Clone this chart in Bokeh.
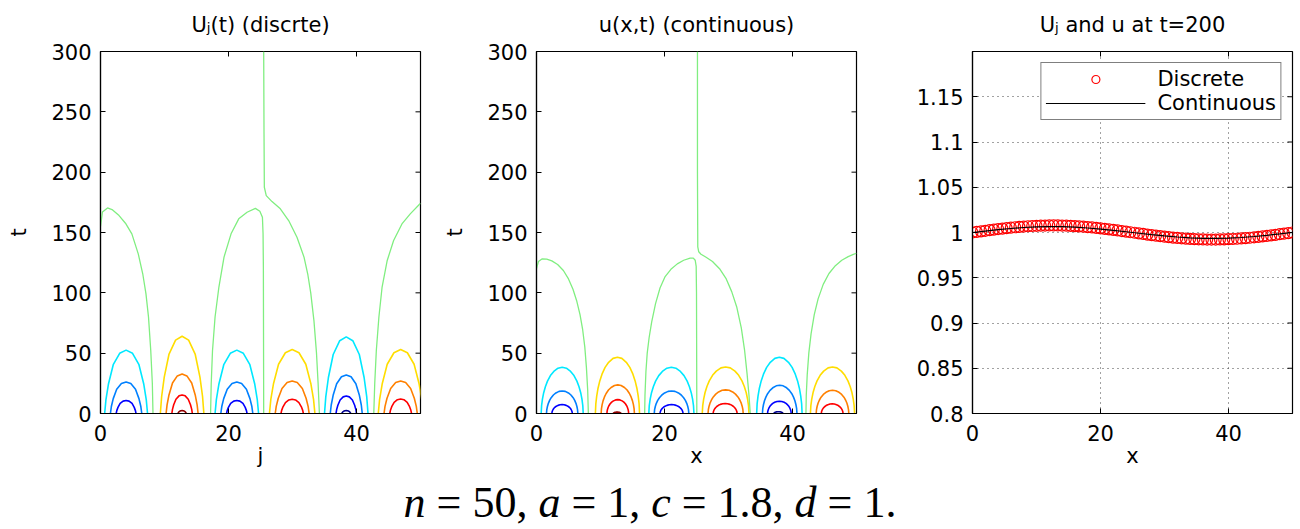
import numpy as np
from bokeh.plotting import figure
from bokeh.models import FixedTicker, Range1d, Div, Legend, LegendItem
from bokeh.layouts import row, column
from bokeh.embed import file_html
from bokeh.resources import INLINE

# ------------------------------------------------------------------ data
# jet colours of the nine contour levels (0 = lowest ... 8 = highest, 4 = level 1.0)
level_colors = ["#000090", "#0000ff", "#0080ff", "#00e8ff", "#80ee80",
                "#ffdd00", "#ff8000", "#ff0000", "#900000"]

# normalised arch outlines (fraction of width, fraction of height)
disc_profile_u = [0, 0.03, 0.09, 0.2, 0.35, 0.5, 0.65, 0.8, 0.91, 0.97, 1]
disc_profile_v = [0, 0.22, 0.47, 0.77, 0.95, 1, 0.95, 0.77, 0.47, 0.22, 0]
cont_profile_u = [0, 0.01, 0.03, 0.06, 0.1, 0.15, 0.22, 0.3, 0.4, 0.5,
                  0.6, 0.7, 0.78, 0.85, 0.9, 0.94, 0.97, 0.99, 1]
cont_profile_v = [0, 0.17, 0.31, 0.45, 0.58, 0.7, 0.82, 0.91, 0.98, 1,
                  0.98, 0.91, 0.82, 0.7, 0.58, 0.45, 0.31, 0.17, 0]

# contour arches of the discrete solution U_j(t)
disc_arch_level = [3, 2, 1, 5, 6, 7, 8, 3, 2, 1, 5, 6, 7, 3, 2, 1, 0, 5, 6, 7]
disc_arch_left = [0.65, 1.55, 2.45, 9.35, 10.25, 11.15, 12.1, 17.9, 18.8, 19.7,
                  26.4, 27.3, 28.2, 35.0, 35.9, 36.8, 37.7, 43.4, 44.3, 45.2]
disc_arch_right = [7.35, 6.45, 5.55, 16.15, 15.25, 14.35, 13.4, 24.7, 23.8, 22.9,
                   33.5, 32.6, 31.7, 41.8, 40.9, 40.0, 39.1, 50.4, 49.5, 48.6]
disc_arch_top = [52.5, 26.2, 10.8, 64, 32.8, 15.4, 2.4, 52.5, 26.2, 10.8,
                 53, 27, 11.8, 63.5, 32, 14.5, 2.4, 53, 27, 12]

# contour arches of the continuous solution u(x,t)
cont_arch_level = [3, 2, 1, 5, 6, 7, 8, 3, 2, 1, 5, 6, 7, 3, 2, 1, 0, 5, 6, 7]
cont_arch_left = [0.73, 1.56, 2.4, 9.2, 10.1, 11.0, 12.0, 17.55, 18.4, 19.3,
                  25.9, 26.8, 27.6, 34.4, 35.3, 36.1, 37.1, 42.8, 43.7, 44.5]
cont_arch_right = [7.3, 6.46, 5.6, 16.1, 15.3, 14.4, 13.2, 24.6, 23.8, 22.9,
                   33.2, 32.3, 31.35, 41.5, 40.7, 39.8, 38.5, 49.7, 48.8, 47.9]
cont_arch_top = [38.3, 18.7, 7.4, 46.6, 23.7, 11.5, 1.2, 38.3, 18.7, 7.4,
                 38.6, 19.6, 8.3, 46.6, 23.4, 10.2, 1.5, 38.6, 19.3, 8.0]

# level-1 (green) contour lines, discrete panel
disc_green_xs = [
    [0, 0.3, 1.1, 1.8, 2.9, 3.9, 4.9, 5.9, 6.6, 7.1, 7.5, 7.85, 8.1, 8.2],
    [17.2, 17.3, 17.5, 17.9, 18.5, 19.3, 20.4, 21.6, 22.9, 24.2, 24.9, 25.3, 25.4, 25.45, 25.5],
    [25.5, 25.55, 25.6, 25.9, 26.8, 28.1, 29.4, 30.7, 31.8, 32.4, 32.85, 33.35, 33.75, 34.0, 34.2],
    [42.7, 42.85, 43.1, 43.5, 44.0, 44.8, 45.8, 47.1, 48.4, 50],
]
disc_green_ts = [
    [155, 167, 170.4, 169, 164, 157.7, 148.9, 132.3, 115.8, 99.3, 80, 52.4, 24.8, 0],
    [0, 24.8, 52, 80, 104.8, 129.6, 148.9, 161.3, 166.8, 170, 167.6, 162.7, 148.9, 121, 0],
    [300, 232, 187.5, 180.6, 175.6, 169.6, 159.9, 146.1, 129.6, 115, 100, 77, 50, 25, 0],
    [0, 24.8, 52.4, 80, 104.8, 126.8, 143.4, 157.1, 165.4, 174.2],
]

# level-1 (green) contour lines, continuous panel
cont_green_xs = [
    [0, 0.3, 0.9, 1.6, 2.4, 3.3, 4.2, 5.0, 5.7, 6.3, 6.8, 7.2, 7.55, 7.8, 8.0, 8.1],
    [16.9, 16.95, 17.1, 17.3, 17.6, 18.0, 18.6, 19.3, 20.1, 21.0, 22.0, 23.0, 24.0,
     24.5, 24.8, 24.95, 25.0, 25.05],
    [25.15, 25.15, 25.2, 25.35, 25.7, 26.5, 27.5, 28.6, 29.6, 30.5, 31.3, 32.0, 32.5,
     32.9, 33.2, 33.4],
    [42.1, 42.15, 42.3, 42.55, 42.9, 43.4, 44.0, 44.8, 45.7, 46.7, 47.7, 48.7, 49.5, 50],
]
cont_green_ts = [
    [120, 126, 128.2, 128, 126.5, 123.5, 118.5, 111.5, 103, 93, 82, 70, 55, 38, 19, 0],
    [0, 15, 35, 50, 63, 76, 91, 104, 113.5, 119.5, 124, 127, 128.8, 128.8, 127, 122, 100, 0],
    [300, 200, 138, 134, 132, 129.5, 126, 120, 112, 101, 88, 71, 53, 33, 15, 0],
    [0, 15, 32, 50, 66, 82, 95, 107, 116, 122.5, 127, 130, 131.8, 132.8],
]

# profiles at t = 200
disc_x = list(np.linspace(0, 50, 76))
disc_u = [1.0000, 1.0007, 1.0013, 1.0019, 1.0026, 1.0032, 1.0038, 1.0043, 1.0048, 1.0053,
          1.0058, 1.0062, 1.0066, 1.0069, 1.0072, 1.0074, 1.0076, 1.0077, 1.0078, 1.0078,
          1.0078, 1.0077, 1.0075, 1.0073, 1.0071, 1.0068, 1.0064, 1.0060, 1.0056, 1.0051,
          1.0046, 1.0040, 1.0035, 1.0029, 1.0023, 1.0016, 1.0010, 1.0003, 0.9997, 0.9990,
          0.9984, 0.9977, 0.9971, 0.9965, 0.9960, 0.9954, 0.9949, 0.9944, 0.9940, 0.9936,
          0.9932, 0.9929, 0.9927, 0.9925, 0.9923, 0.9922, 0.9922, 0.9922, 0.9923, 0.9924,
          0.9926, 0.9928, 0.9931, 0.9934, 0.9938, 0.9942, 0.9947, 0.9952, 0.9957, 0.9962,
          0.9968, 0.9974, 0.9981, 0.9987, 0.9993, 1.0000]
cont_x = [0, 2, 4, 6, 8, 10, 12, 14, 16, 18, 20, 22, 24, 26, 28, 30, 32, 34, 36, 38,
          40, 42, 44, 46, 48, 50]
cont_u = [1.0000, 1.0016, 1.0031, 1.0044, 1.0055, 1.0062, 1.0065, 1.0064, 1.0059, 1.0050,
          1.0038, 1.0024, 1.0008, 0.9992, 0.9976, 0.9962, 0.9950, 0.9941, 0.9936, 0.9935,
          0.9938, 0.9945, 0.9956, 0.9969, 0.9984, 1.0000]

contour_xticks = [0, 20, 40]
contour_tticks = [0, 50, 100, 150, 200, 250, 300]
prof_yticks = [0.8, 0.85, 0.9, 0.95, 1.0, 1.05, 1.1, 1.15]
prof_ylabels = ["0.8", "0.85", "0.9", "0.95", "1", "1.05", "1.1", "1.15"]

titles = ["U\u2c7c(t) (discrte)", "u(x,t) (continuous)", "U\u2c7c and u at t=200"]
xlabels = ["j", "x", "x"]
param_names = ["n", "a", "c", "d"]
param_values = ["50", "1", "1.8", "1"]

# ------------------------------------------------------------------ styling helpers
FONT = "DejaVu Sans"
FS = "21px"
FRAME_H = 362
TICK_PX = 5


def make_fig(title, xr, yr, xticks, yticks, xlabel, ylabel, right_border, fw):
    p = figure(frame_width=fw, frame_height=FRAME_H, x_range=Range1d(*xr), y_range=Range1d(*yr),
               output_backend="svg", toolbar_location=None,
               min_border_left=100, min_border_right=right_border,
               min_border_top=51, min_border_bottom=4)
    p.title.text = title
    p.title.text_font = FONT
    p.title.text_font_size = FS
    p.title.text_font_style = "normal"
    p.title.text_color = "black"
    p.title.align = "center"
    p.title.vertical_align = "top"
    p.title.standoff = 25
    p.outline_line_color = "black"
    p.outline_line_width = 1.2
    p.background_fill_color = "white"
    p.border_fill_color = "white"
    for ax in (p.xaxis[0], p.yaxis[0]):
        ax.major_tick_in = TICK_PX
        ax.major_tick_out = 0
        ax.minor_tick_in = 0
        ax.minor_tick_out = 0
        ax.axis_line_color = "black"
        ax.axis_line_width = 1.2
        ax.major_tick_line_color = "black"
        ax.major_label_text_font = FONT
        ax.major_label_text_font_size = FS
        ax.major_label_text_color = "black"
        ax.axis_label_text_font = FONT
        ax.axis_label_text_font_size = FS
        ax.axis_label_text_font_style = "normal"
        ax.axis_label_text_color = "black"
    p.xaxis.ticker = FixedTicker(ticks=xticks)
    p.yaxis.ticker = FixedTicker(ticks=yticks)
    p.xaxis.major_label_standoff = 11
    p.yaxis.major_label_standoff = 9
    p.xaxis.axis_label = xlabel
    p.xaxis.axis_label_standoff = 0
    if ylabel:
        p.yaxis.axis_label = ylabel
        p.yaxis.axis_label_standoff = 17
    # inward tick marks on the top and right edges of the box (MATLAB "box on")
    dy = (yr[1] - yr[0]) * TICK_PX / FRAME_H
    dx = (xr[1] - xr[0]) * TICK_PX / fw
    p.segment(x0=xticks, y0=[yr[1]] * len(xticks), x1=xticks, y1=[yr[1] - dy] * len(xticks),
              line_color="black", line_width=1)
    p.segment(x0=[xr[1]] * len(yticks), y0=yticks, x1=[xr[1] - dx] * len(yticks), y1=yticks,
              line_color="black", line_width=1)
    return p


def arch_lines(levels, lefts, rights, tops, pu, pv):
    xs, ys, cols = [], [], []
    for lev, l, r, h in zip(levels, lefts, rights, tops):
        xs.append([l + u * (r - l) for u in pu])
        ys.append([v * h for v in pv])
        cols.append(level_colors[lev])
    return xs, ys, cols


# ------------------------------------------------------------------ panel 1 (discrete)
p1 = make_fig(titles[0], (0, 50), (0, 300), contour_xticks, contour_tticks, xlabels[0], "t", 16, 320)
p1.grid.visible = False
xs, ys, cols = arch_lines(disc_arch_level, disc_arch_left, disc_arch_right, disc_arch_top,
                          disc_profile_u, disc_profile_v)
p1.multi_line(xs, ys, line_color=cols, line_width=1.6)
p1.multi_line(disc_green_xs, disc_green_ts, line_color=level_colors[4], line_width=1.3)

# ------------------------------------------------------------------ panel 2 (continuous)
p2 = make_fig(titles[1], (0, 50), (0, 300), contour_xticks, contour_tticks, xlabels[1], "t", 16, 320)
p2.grid.visible = False
xs, ys, cols = arch_lines(cont_arch_level, cont_arch_left, cont_arch_right, cont_arch_top,
                          cont_profile_u, cont_profile_v)
p2.multi_line(xs, ys, line_color=cols, line_width=1.6)
p2.multi_line(cont_green_xs, cont_green_ts, line_color=level_colors[4], line_width=1.3)

# ------------------------------------------------------------------ panel 3 (profiles)
p3 = make_fig(titles[2], (0, 50), (0.8, 1.2), contour_xticks, prof_yticks, xlabels[2], None, 4, 320)
p3.yaxis.major_label_overrides = {t: s for t, s in zip(prof_yticks, prof_ylabels)}
for g in (p3.xgrid[0], p3.ygrid[0]):
    g.grid_line_color = "#444444"
    g.grid_line_dash = "1 4"
    g.grid_line_width = 1
r_disc = p3.scatter(disc_x, disc_u, marker="circle", size=11, fill_color=None,
                    line_color="red", line_width=1.2)
r_cont = p3.line(cont_x, cont_u, line_color="black", line_width=1.2)
legend = Legend(items=[LegendItem(label="Discrete", renderers=[r_disc]),
                       LegendItem(label="Continuous", renderers=[r_cont])],
                location="top_right", margin=11, padding=4, spacing=0,
                glyph_width=100, glyph_height=20, label_height=20, label_standoff=12,
                label_text_font=FONT, label_text_font_size="21px", label_text_color="black",
                border_line_color="black", border_line_width=1.5,
                background_fill_alpha=1.0)
p3.add_layout(legend)

# ------------------------------------------------------------------ caption
parts = ["<i>%s</i>&nbsp;=&nbsp;%s" % (n, v) for n, v in zip(param_names, param_values)]
caption = ", ".join(parts) + "."
eq_html = ('<div style="font-family:\'Liberation Serif\',serif;font-size:44px;line-height:1.15;'
           'padding-top:3px;text-align:center;width:1290px;white-space:nowrap;color:black;">'
           + caption + '</div>')
div = Div(text=eq_html, width=1296, height=54)

layout = column(row(p1, p2, p3), div)
open("out.html", "w").write(file_html(layout, INLINE))
